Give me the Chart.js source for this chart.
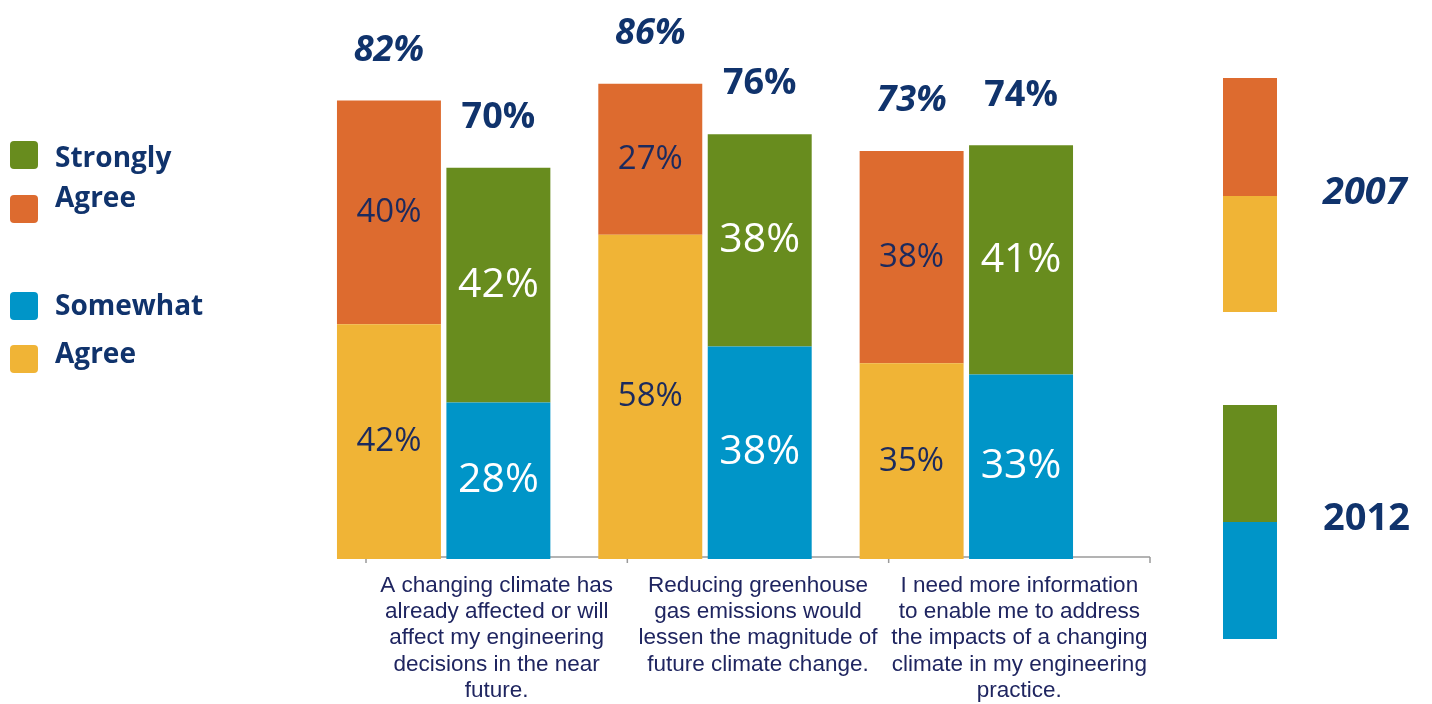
<!DOCTYPE html>
<html>
<head>
<meta charset="utf-8">
<title>Climate change and engineering decisions, 2007 vs 2012</title>
<script src="https://cdn.jsdelivr.net/npm/chart.js@4/dist/chart.umd.min.js"></script>
<style>
  body { margin: 0; background: #fff; }
  #wrap { position: relative; width: 1432px; height: 704px; }
  #chart { position: absolute; left: 0; top: 0; }
  .sw { position: absolute; width: 28px; height: 28px; border-radius: 4px; }
  .lg { position: absolute; font-family: "Open Sans", sans-serif; font-weight: 700; color: #10336c; font-size: 28px; line-height: 28px; }
  .blk { position: absolute; left: 1223px; width: 54px; }
  .yr { position: absolute; left: 1323px; font-family: "Open Sans", sans-serif; font-weight: 700; color: #10336c; font-size: 38px; line-height: 38px; }
</style>
</head>
<body>
<div id="wrap">
  <canvas id="chart" width="1432" height="704"></canvas>

  <!-- legende links -->
  <div class="sw" style="left:10px; top:141px; background:#688c1e"></div>
  <div class="sw" style="left:10px; top:195px; background:#dd6b2f"></div>
  <div class="lg" style="left:55px; top:142px">Strongly</div>
  <div class="lg" style="left:55px; top:182px">Agree</div>
  <div class="sw" style="left:10px; top:292px; background:#0095c8"></div>
  <div class="sw" style="left:10px; top:345px; background:#f0b436"></div>
  <div class="lg" style="left:55px; top:290px">Somewhat</div>
  <div class="lg" style="left:55px; top:338px">Agree</div>

  <!-- legende rechts: jahre -->
  <div class="blk" style="top:78px; height:118px; background:#dd6b2f"></div>
  <div class="blk" style="top:196px; height:116px; background:#f0b436"></div>
  <div class="yr" style="top:170px; font-style:italic">2007</div>
  <div class="blk" style="top:405px; height:117px; background:#688c1e"></div>
  <div class="blk" style="top:522px; height:117px; background:#0095c8"></div>
  <div class="yr" style="top:496px">2012</div>
</div>

<script>
// Aussagen (mehrzeilig wie auf der Achse)
const categories = [
  ["A changing climate has", "already affected or will", "affect my engineering", "decisions in the near", "future."],
  ["Reducing greenhouse", "gas emissions would", "lessen the magnitude of", "future climate change."],
  ["I need more information", "to enable me to address", "the impacts of a changing", "climate in my engineering", "practice."]
];

// Anteile in %
const somewhat2007 = [42, 58, 35];
const strongly2007 = [40, 27, 38];
const somewhat2012 = [28, 38, 33];
const strongly2012 = [42, 38, 41];

// Summen über den Balken
const total2007 = [82, 86, 73];
const total2012 = [70, 76, 74];

const NAVY = "#10336c";
const LABEL_SHIFT = 53; // Achsenbeschriftung sitzt rechts versetzt zu den Balken

// Werte in den Segmenten + Summen oben drauf
const barLabels = {
  id: "barLabels",
  afterDatasetsDraw(chart) {
    const ctx = chart.ctx;
    ctx.save();
    ctx.textAlign = "center";
    ctx.textBaseline = "middle";
    chart.data.datasets.forEach((ds, di) => {
      const meta = chart.getDatasetMeta(di);
      meta.data.forEach((bar, i) => {
        const mid = (bar.y + bar.base) / 2;
        ctx.fillStyle = ds.valueColor;
        ctx.font = ds.valueFont;
        ctx.fillText(ds.data[i] + "%", bar.x, mid);
        if (ds.totals) {
          ctx.fillStyle = NAVY;
          ctx.font = ds.totalFont;
          ctx.fillText(ds.totals[i] + "%", bar.x, bar.y - 50);
        }
      });
    });
    ctx.restore();
  }
};

// Grundlinie mit Teilstrichen, hinter den Balken
const baseAxis = {
  id: "baseAxis",
  beforeDatasetsDraw(chart) {
    const ctx = chart.ctx;
    const x = chart.scales.x;
    const area = chart.chartArea;
    const catW = x.width / categories.length;
    const y = area.bottom - 2;
    const firstBar = chart.getDatasetMeta(0).data[0];
    const start = firstBar.x - firstBar.width / 2;
    const end = x.getPixelForValue(categories.length - 1) + catW / 2 + LABEL_SHIFT;
    ctx.save();
    ctx.strokeStyle = "#9a9a9a";
    ctx.lineWidth = 1.5;
    ctx.beginPath();
    ctx.moveTo(start, y);
    ctx.lineTo(end, y);
    for (let i = 0; i <= categories.length; i++) {
      const tx = x.getPixelForValue(0) - catW / 2 + i * catW + LABEL_SHIFT;
      ctx.moveTo(tx, y);
      ctx.lineTo(tx, y + 6);
    }
    ctx.stroke();
    ctx.restore();
  }
};

new Chart(document.getElementById("chart"), {
  type: "bar",
  data: {
    labels: categories,
    datasets: [
      { label: "Somewhat Agree 2007", data: somewhat2007, stack: "y2007", backgroundColor: "#f0b436",
        valueColor: "#1b2a5e", valueFont: "33px 'Open Sans'" },
      { label: "Strongly Agree 2007", data: strongly2007, stack: "y2007", backgroundColor: "#dd6b2f",
        valueColor: "#1b2a5e", valueFont: "33px 'Open Sans'",
        totals: total2007, totalFont: "italic bold 36px 'Open Sans'" },
      { label: "Somewhat Agree 2012", data: somewhat2012, stack: "y2012", backgroundColor: "#0095c8",
        valueColor: "#ffffff", valueFont: "41px 'Open Sans'" },
      { label: "Strongly Agree 2012", data: strongly2012, stack: "y2012", backgroundColor: "#688c1e",
        valueColor: "#ffffff", valueFont: "41px 'Open Sans'",
        totals: total2012, totalFont: "bold 36px 'Open Sans'" }
    ]
  },
  options: {
    responsive: false,
    animation: false,
    categoryPercentage: 0.8375,
    barPercentage: 0.95,
    layout: { padding: { left: 313, right: 335, top: 0, bottom: 0 } },
    plugins: { legend: { display: false }, tooltip: { enabled: false } },
    scales: {
      x: {
        stacked: true,
        grid: { display: false },
        border: { display: false },
        afterFit: (scale) => { scale.height = 145; },
        ticks: {
          autoSkip: false,
          maxRotation: 0,
          labelOffset: LABEL_SHIFT,
          padding: 6,
          color: "#1f2560",
          font: { family: "'Liberation Sans', Arial, sans-serif", size: 22.5, lineHeight: 1.16 }
        }
      },
      y: { stacked: true, display: false, min: 0, max: 100 }
    }
  },
  plugins: [baseAxis, barLabels]
});
</script>
</body>
</html>
